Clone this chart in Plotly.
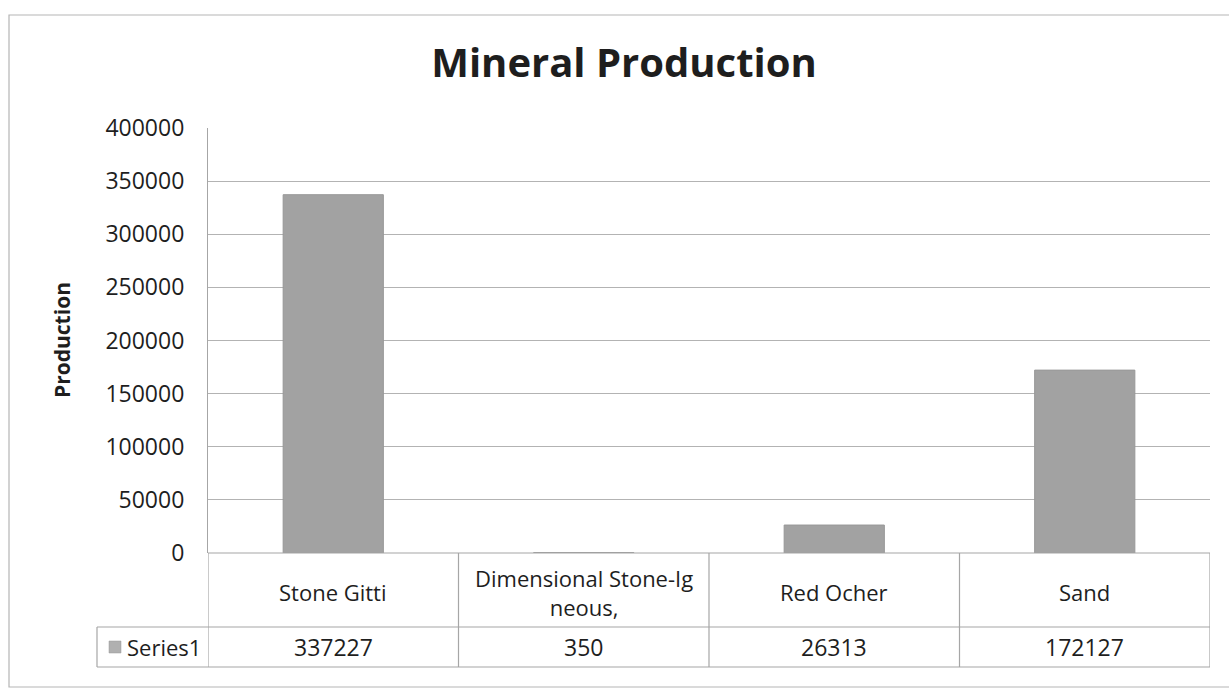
import plotly.graph_objects as go

categories = ["Stone Gitti", "Dimensional Stone-Ig<br>neous,", "Red Ocher", "Sand"]
values = [337227, 350, 26313, 172127]
series_name = "Series1"
title = "Mineral Production"
y_title = "Production"
y_ticks = [0, 50000, 100000, 150000, 200000, 250000, 300000, 350000, 400000]

W, H = 1229, 695
L, R, T, B = 208, 1210, 128, 553
pw, ph = R - L, B - T

def px_x(p):
    return (p - L) / pw

def px_y(p):
    return (B - p) / ph

FONT = "Open Sans"
LINE = "#a6a6a6"
TXT = "#1e1e1e"

x_idx = list(range(len(categories)))

fig = go.Figure()
fig.add_trace(go.Bar(
    x=x_idx, y=values, width=0.4,
    marker=dict(color="#a2a2a2", line=dict(color="#989898", width=1)),
    name=series_name, showlegend=False,
))

shapes = []
# outer frame
shapes.append(dict(type="rect", xref="paper", yref="paper",
                   x0=px_x(9), x1=px_x(1245), y0=px_y(687), y1=px_y(15),
                   line=dict(color="#b5b5b5", width=1.2), layer="below"))
# table horizontals
for yy, x0 in [(B, 0), (627, px_x(97)), (667, px_x(97))]:
    shapes.append(dict(type="line", xref="paper", yref="paper",
                       x0=x0, x1=1, y0=px_y(yy), y1=px_y(yy),
                       line=dict(color=LINE, width=1.2)))
# table verticals at category boundaries
n = len(categories)
for i in range(n + 1):
    shapes.append(dict(type="line", xref="x", yref="paper",
                       x0=i - 0.5, x1=i - 0.5, y0=px_y(667), y1=0,
                       line=dict(color=LINE, width=1.2)))
# series label cell left edge
shapes.append(dict(type="line", xref="paper", yref="paper",
                   x0=px_x(97), x1=px_x(97), y0=px_y(667), y1=px_y(627),
                   line=dict(color=LINE, width=1.2)))
# legend key
shapes.append(dict(type="rect", xref="paper", yref="paper",
                   x0=px_x(109), x1=px_x(121), y0=px_y(653), y1=px_y(641),
                   fillcolor="#b0b0b0", line=dict(color="#999999", width=0.5)))

annotations = []
for i, (c, v) in enumerate(zip(categories, values)):
    annotations.append(dict(x=i, y=px_y(592), xref="x", yref="paper", text=c,
                            showarrow=False, font=dict(family=FONT, size=22, color=TXT),
                            xanchor="center", yanchor="middle"))
    annotations.append(dict(x=i, y=px_y(647), xref="x", yref="paper", text=str(v),
                            showarrow=False, font=dict(family=FONT, size=23, color=TXT),
                            xanchor="center", yanchor="middle"))
annotations.append(dict(x=px_x(125), y=px_y(647), xref="paper", yref="paper", text=series_name,
                        showarrow=False, font=dict(family=FONT, size=22, color=TXT),
                        xanchor="left", yanchor="middle"))
# y-axis title
annotations.append(dict(x=px_x(62), y=px_y(340), xref="paper", yref="paper",
                        text="<b>" + y_title + "</b>", textangle=-90, showarrow=False,
                        font=dict(family=FONT, size=21, color=TXT),
                        xanchor="center", yanchor="middle"))

fig.update_layout(
    width=W, height=H,
    margin=dict(l=L, r=W - R, t=T, b=H - B),
    paper_bgcolor="white", plot_bgcolor="white",
    title=dict(text="<b>" + title + "</b>", x=(430 + 818) / 2 / W, xanchor="center",
               y=1 - 63 / H, yanchor="middle",
               font=dict(family=FONT, size=40, color=TXT)),
    xaxis=dict(range=[-0.5, n - 0.5], showticklabels=False, showgrid=False,
               zeroline=False, ticks="", showline=False),
    yaxis=dict(range=[0, 400000], tickvals=y_ticks, ticktext=[str(t) for t in y_ticks],
               showgrid=True, gridcolor="#b3b3b3", gridwidth=1.2, zeroline=False,
               showline=True, linecolor=LINE, linewidth=1.2,
               ticks="", ticklen=0, ticklabelstandoff=18,
               tickfont=dict(family=FONT, size=23, color=TXT)),
    shapes=shapes, annotations=annotations,
    bargap=0.6,
)

fig.write_html("out.html", config={"displayModeBar": False},
               post_script="document.body.style.margin='0px';")
